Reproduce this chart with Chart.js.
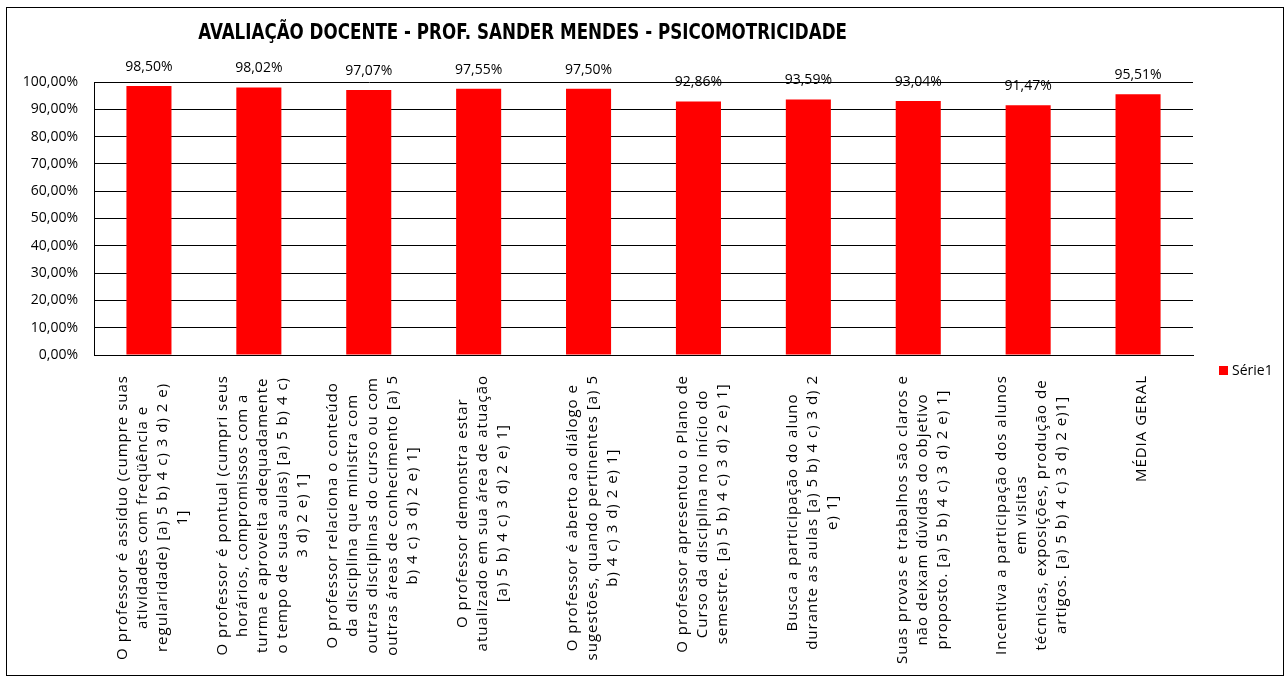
<!DOCTYPE html>
<html>
<head>
<meta charset="utf-8">
<script src="https://cdn.jsdelivr.net/npm/chart.js@4/dist/chart.umd.min.js"></script>
<style>
  html, body { margin: 0; padding: 0; background: #fff; }
  #wrap { width: 1287px; height: 679px; }
</style>
</head>
<body>
<div id="wrap"><canvas id="chart"></canvas></div>
<script>
// texto das categorias (quebras de linha como no original)
const labelLines = [
    ["O professor é assíduo (cumpre suas", "atividades com freqüência e", "regularidade) [a) 5 b) 4 c) 3 d) 2 e)", "1]"],
    ["O professor é pontual (cumpri seus", "horários, compromissos com a", "turma e aproveita adequadamente", "o tempo de suas aulas) [a) 5 b) 4 c)", "3 d) 2 e) 1]"],
    ["O professor relaciona o conteúdo", "da disciplina que ministra com", "outras disciplinas do curso ou com", "outras áreas de conhecimento [a) 5", "b) 4 c) 3 d) 2 e) 1]"],
    ["O professor demonstra estar", "atualizado em sua área de atuação", "[a) 5 b) 4 c) 3 d) 2 e) 1]"],
    ["O professor é aberto ao diálogo e", "sugestões, quando pertinentes [a) 5", "b) 4 c) 3 d) 2 e) 1]"],
    ["O professor apresentou o Plano de", "Curso da disciplina no início do", "semestre. [a) 5 b) 4 c) 3 d) 2 e) 1]"],
    ["Busca a participação do aluno", "durante as aulas [a) 5 b) 4 c) 3 d) 2", "e) 1]"],
    ["Suas provas e trabalhos são claros e", "não deixam dúvidas do objetivo", "proposto. [a) 5 b) 4 c) 3 d) 2 e) 1]"],
    ["Incentiva a participação dos alunos", "em visitas", "técnicas, exposições, produção de", "artigos. [a) 5 b) 4 c) 3 d) 2 e)1]"],
    ["MÉDIA GERAL"]
];
const serie1 = [98.50, 98.02, 97.07, 97.55, 97.50, 92.86, 93.59, 93.04, 91.47, 95.51];
const seriesName = "Série1";
const titleText = "AVALIAÇÃO DOCENTE - PROF. SANDER MENDES - PSICOMOTRICIDADE";
const yTicks = [0, 10, 20, 30, 40, 50, 60, 70, 80, 90, 100];

const barColor = '#FF0000';
const valueFont = '14px "Open Sans", sans-serif';
const catFont = '15px "Open Sans", sans-serif';
const fmtPct = v => v.toFixed(2).replace('.', ',') + '%';

// moldura, título, rótulos de categoria, valores e legenda
const excelLook = {
    id: 'excelLook',
    beforeDraw(chart) {
        const ctx = chart.ctx;
        ctx.save();
        ctx.fillStyle = '#fff';
        ctx.fillRect(0, 0, chart.width, chart.height);
        ctx.strokeStyle = '#000';
        ctx.lineWidth = 1;
        ctx.strokeRect(6.5, 7.5, chart.width - 10, chart.height - 11);
        ctx.restore();
    },
    afterDraw(chart) {
        const ctx = chart.ctx;
        const area = chart.chartArea;
        const xs = chart.scales.x;
        ctx.save();

        // título (fonte condensada, estreitada como o Calibri do original)
        ctx.fillStyle = '#000';
        ctx.textAlign = 'center';
        ctx.textBaseline = 'middle';
        ctx.save();
        ctx.translate(area.left + area.width * 0.39, 34);
        ctx.scale(0.885, 1);
        ctx.font = 'bold 21px "DejaVu Sans Condensed", "DejaVu Sans", sans-serif';
        ctx.fillText(titleText, 0, 0);
        ctx.restore();

        // valores acima das barras
        ctx.font = valueFont;
        const meta = chart.getDatasetMeta(0);
        meta.data.forEach((bar, i) => {
            ctx.fillText(fmtPct(serie1[i]), bar.x, bar.y - 19);
        });

        // legenda
        const ly = area.bottom + 16;
        const lx = area.right + 26;
        ctx.fillStyle = barColor;
        ctx.fillRect(lx, ly - 5, 9, 9);
        ctx.fillStyle = '#000';
        ctx.textAlign = 'left';
        ctx.fillText(seriesName, lx + 13, ly);

        // rótulos verticais, centralizados linha a linha
        ctx.textAlign = 'center';
        ctx.font = catFont;
        ctx.letterSpacing = '1px';
        const lineH = 20;
        const top = area.bottom + 20;
        labelLines.forEach((lines, i) => {
            const cx = xs.getPixelForTick(i) + 4;
            const maxW = Math.max(...lines.map(l => ctx.measureText(l).width));
            lines.forEach((line, j) => {
                const x = cx + (j - (lines.length - 1) / 2) * lineH;
                ctx.save();
                ctx.translate(x, top + maxW / 2);
                ctx.rotate(-Math.PI / 2);
                ctx.fillText(line, 0, 0);
                ctx.restore();
            });
        });

        ctx.restore();
    }
};

new Chart(document.getElementById('chart'), {
    type: 'bar',
    data: {
        labels: labelLines.map(l => l.join(' ')),
        datasets: [{
            label: seriesName,
            data: serie1,
            backgroundColor: barColor,
            barPercentage: 0.41,
            categoryPercentage: 1
        }]
    },
    options: {
        responsive: true,
        maintainAspectRatio: false,
        animation: false,
        layout: { padding: { top: 82, right: 94, left: 0, bottom: 0 } },
        plugins: {
            legend: { display: false },
            title: { display: false },
            tooltip: { enabled: false }
        },
        scales: {
            x: {
                grid: { display: false },
                border: { color: '#000', width: 1 },
                ticks: { display: false },
                afterFit(scale) { scale.height = 324; }
            },
            y: {
                min: 0,
                max: 100,
                afterBuildTicks(scale) { scale.ticks = yTicks.map(v => ({ value: v })); },
                ticks: {
                    color: '#000',
                    font: { family: '"Open Sans", sans-serif', size: 14 },
                    padding: 16,
                    callback: v => fmtPct(v)
                },
                grid: { color: '#000', drawTicks: false },
                border: { color: '#000', width: 1 },
                afterFit(scale) { scale.width = 94; }
            }
        }
    },
    plugins: [excelLook]
});
</script>
</body>
</html>
